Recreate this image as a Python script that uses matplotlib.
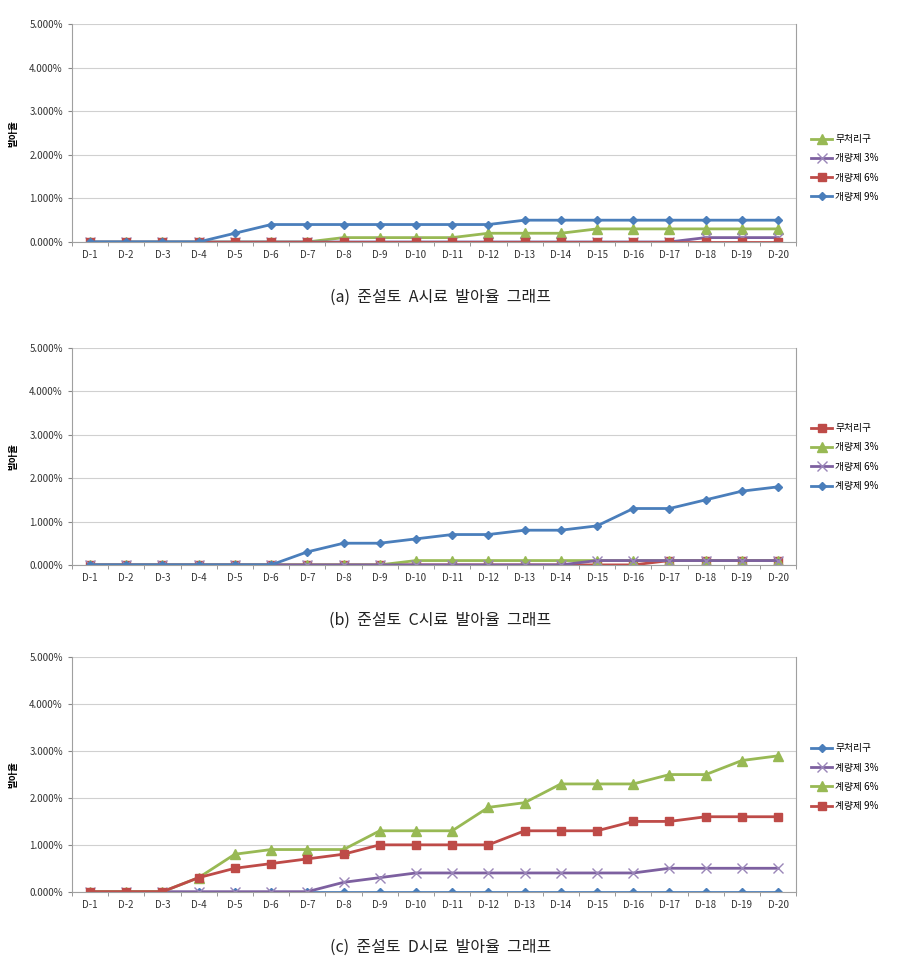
import matplotlib
matplotlib.use("Agg")
import matplotlib.pyplot as plt
from matplotlib.ticker import FuncFormatter, FixedLocator

plt.rcParams['font.family'] = ['Noto Sans CJK KR', 'DejaVu Sans']

days = ["D-%d" % i for i in range(1, 21)]

# (a) 준설토 A시료
a_labels = ["무처리구", "개량제 3%", "개량제 6%", "개량제 9%"]
a_none = [0, 0, 0, 0, 0, 0, 0, 0.1, 0.1, 0.1, 0.1, 0.2, 0.2, 0.2, 0.3, 0.3, 0.3, 0.3, 0.3, 0.3]
a_3 = [0, 0, 0, 0, 0, 0, 0, 0, 0, 0, 0, 0, 0, 0, 0, 0, 0, 0.1, 0.1, 0.1]
a_6 = [0] * 20
a_9 = [0, 0, 0, 0, 0.2, 0.4, 0.4, 0.4, 0.4, 0.4, 0.4, 0.4, 0.5, 0.5, 0.5, 0.5, 0.5, 0.5, 0.5, 0.5]

# (b) 준설토 C시료
b_labels = ["무처리구", "개량제 3%", "개량제 6%", "계량제 9%"]
b_none = [0, 0, 0, 0, 0, 0, 0, 0, 0, 0, 0, 0, 0, 0, 0, 0, 0.1, 0.1, 0.1, 0.1]
b_3 = [0, 0, 0, 0, 0, 0, 0, 0, 0, 0.1, 0.1, 0.1, 0.1, 0.1, 0.1, 0.1, 0.1, 0.1, 0.1, 0.1]
b_6 = [0, 0, 0, 0, 0, 0, 0, 0, 0, 0, 0, 0, 0, 0, 0.1, 0.1, 0.1, 0.1, 0.1, 0.1]
b_9 = [0, 0, 0, 0, 0, 0, 0.3, 0.5, 0.5, 0.6, 0.7, 0.7, 0.8, 0.8, 0.9, 1.3, 1.3, 1.5, 1.7, 1.8]

# (c) 준설토 D시료
c_labels = ["무처리구", "계량제 3%", "계량제 6%", "계량제 9%"]
c_none = [0] * 20
c_3 = [0, 0, 0, 0, 0, 0, 0, 0.2, 0.3, 0.4, 0.4, 0.4, 0.4, 0.4, 0.4, 0.4, 0.5, 0.5, 0.5, 0.5]
c_6 = [0, 0, 0, 0.3, 0.8, 0.9, 0.9, 0.9, 1.3, 1.3, 1.3, 1.8, 1.9, 2.3, 2.3, 2.3, 2.5, 2.5, 2.8, 2.9]
c_9 = [0, 0, 0, 0.3, 0.5, 0.6, 0.7, 0.8, 1.0, 1.0, 1.0, 1.0, 1.3, 1.3, 1.3, 1.5, 1.5, 1.6, 1.6, 1.6]

BLUE = dict(color="#4a7ebb", marker="D", ms=4.5)
RED = dict(color="#be4b48", marker="s", ms=6)
GREEN = dict(color="#98b954", marker="^", ms=6.5)
PURPLE = dict(color="#7d60a0", marker="x", ms=6.5, mew=1.0, mec="#9a86b8")

panels = [
    ([0.079, 0.749, 0.796, 0.226], "(a)  준설토  A시료  발아율  그래프", 0.692,
     list(zip(a_labels, [a_none, a_3, a_6, a_9], [GREEN, PURPLE, RED, BLUE])), 0.865),
    ([0.079, 0.414, 0.796, 0.225], "(b)  준설토  C시료  발아율  그래프", 0.565,
     list(zip(b_labels, [b_none, b_3, b_6, b_9], [RED, GREEN, PURPLE, BLUE])), 0.565),
    ([0.079, 0.075, 0.796, 0.243], "(c)  준설토  D시료  발아율  그래프", 0.017,
     list(zip(c_labels, [c_none, c_3, c_6, c_9], [BLUE, PURPLE, GREEN, RED])), 0.233),
]
panels[1] = (panels[1][0], panels[1][1], 0.356, panels[1][3], panels[1][4])

fig = plt.figure(figsize=(9.1, 9.64), dpi=100)
x = list(range(len(days)))

for rect, caption, cap_y, series, leg_y in panels:
    ax = fig.add_axes(rect)
    for label, vals, style in series:
        ax.plot(x, vals, lw=2, label=label, **style)
    ax.set_xlim(-0.5, 19.5)
    ax.set_ylim(0, 5)
    ax.set_yticks([0, 1, 2, 3, 4, 5])
    ax.yaxis.set_major_formatter(FuncFormatter(lambda v, p: "%.3f%%" % v))
    ax.set_xticks(x)
    ax.set_xticklabels(days)
    ax.xaxis.set_minor_locator(FixedLocator([i + 0.5 for i in range(-1, 20)]))
    ax.tick_params(axis="x", which="major", length=0, labelsize=7, colors="#333333", pad=6)
    ax.tick_params(axis="x", which="minor", length=3, color="#888888")
    ax.tick_params(axis="y", length=3, labelsize=7, colors="#333333", color="#888888")
    ax.grid(axis="y", color="#d0d0d0", lw=0.8)
    ax.set_axisbelow(True)
    ax.spines["top"].set_visible(False)
    for s in ["left", "bottom", "right"]:
        ax.spines[s].set_color("#a0a0a0")
    ax.set_ylabel("발아율", fontsize=7, fontweight="bold", labelpad=8)
    ax.legend(loc="upper left", bbox_to_anchor=(0.887, leg_y), bbox_transform=fig.transFigure,
              frameon=False, fontsize=7, handlelength=2.2, handletextpad=0.3, labelspacing=0.95,
              borderaxespad=0)
    fig.text(0.484, cap_y, caption, ha="center", va="center", fontsize=11.5, color="#222222")

fig.savefig("out.png", dpi=100, facecolor="white")
